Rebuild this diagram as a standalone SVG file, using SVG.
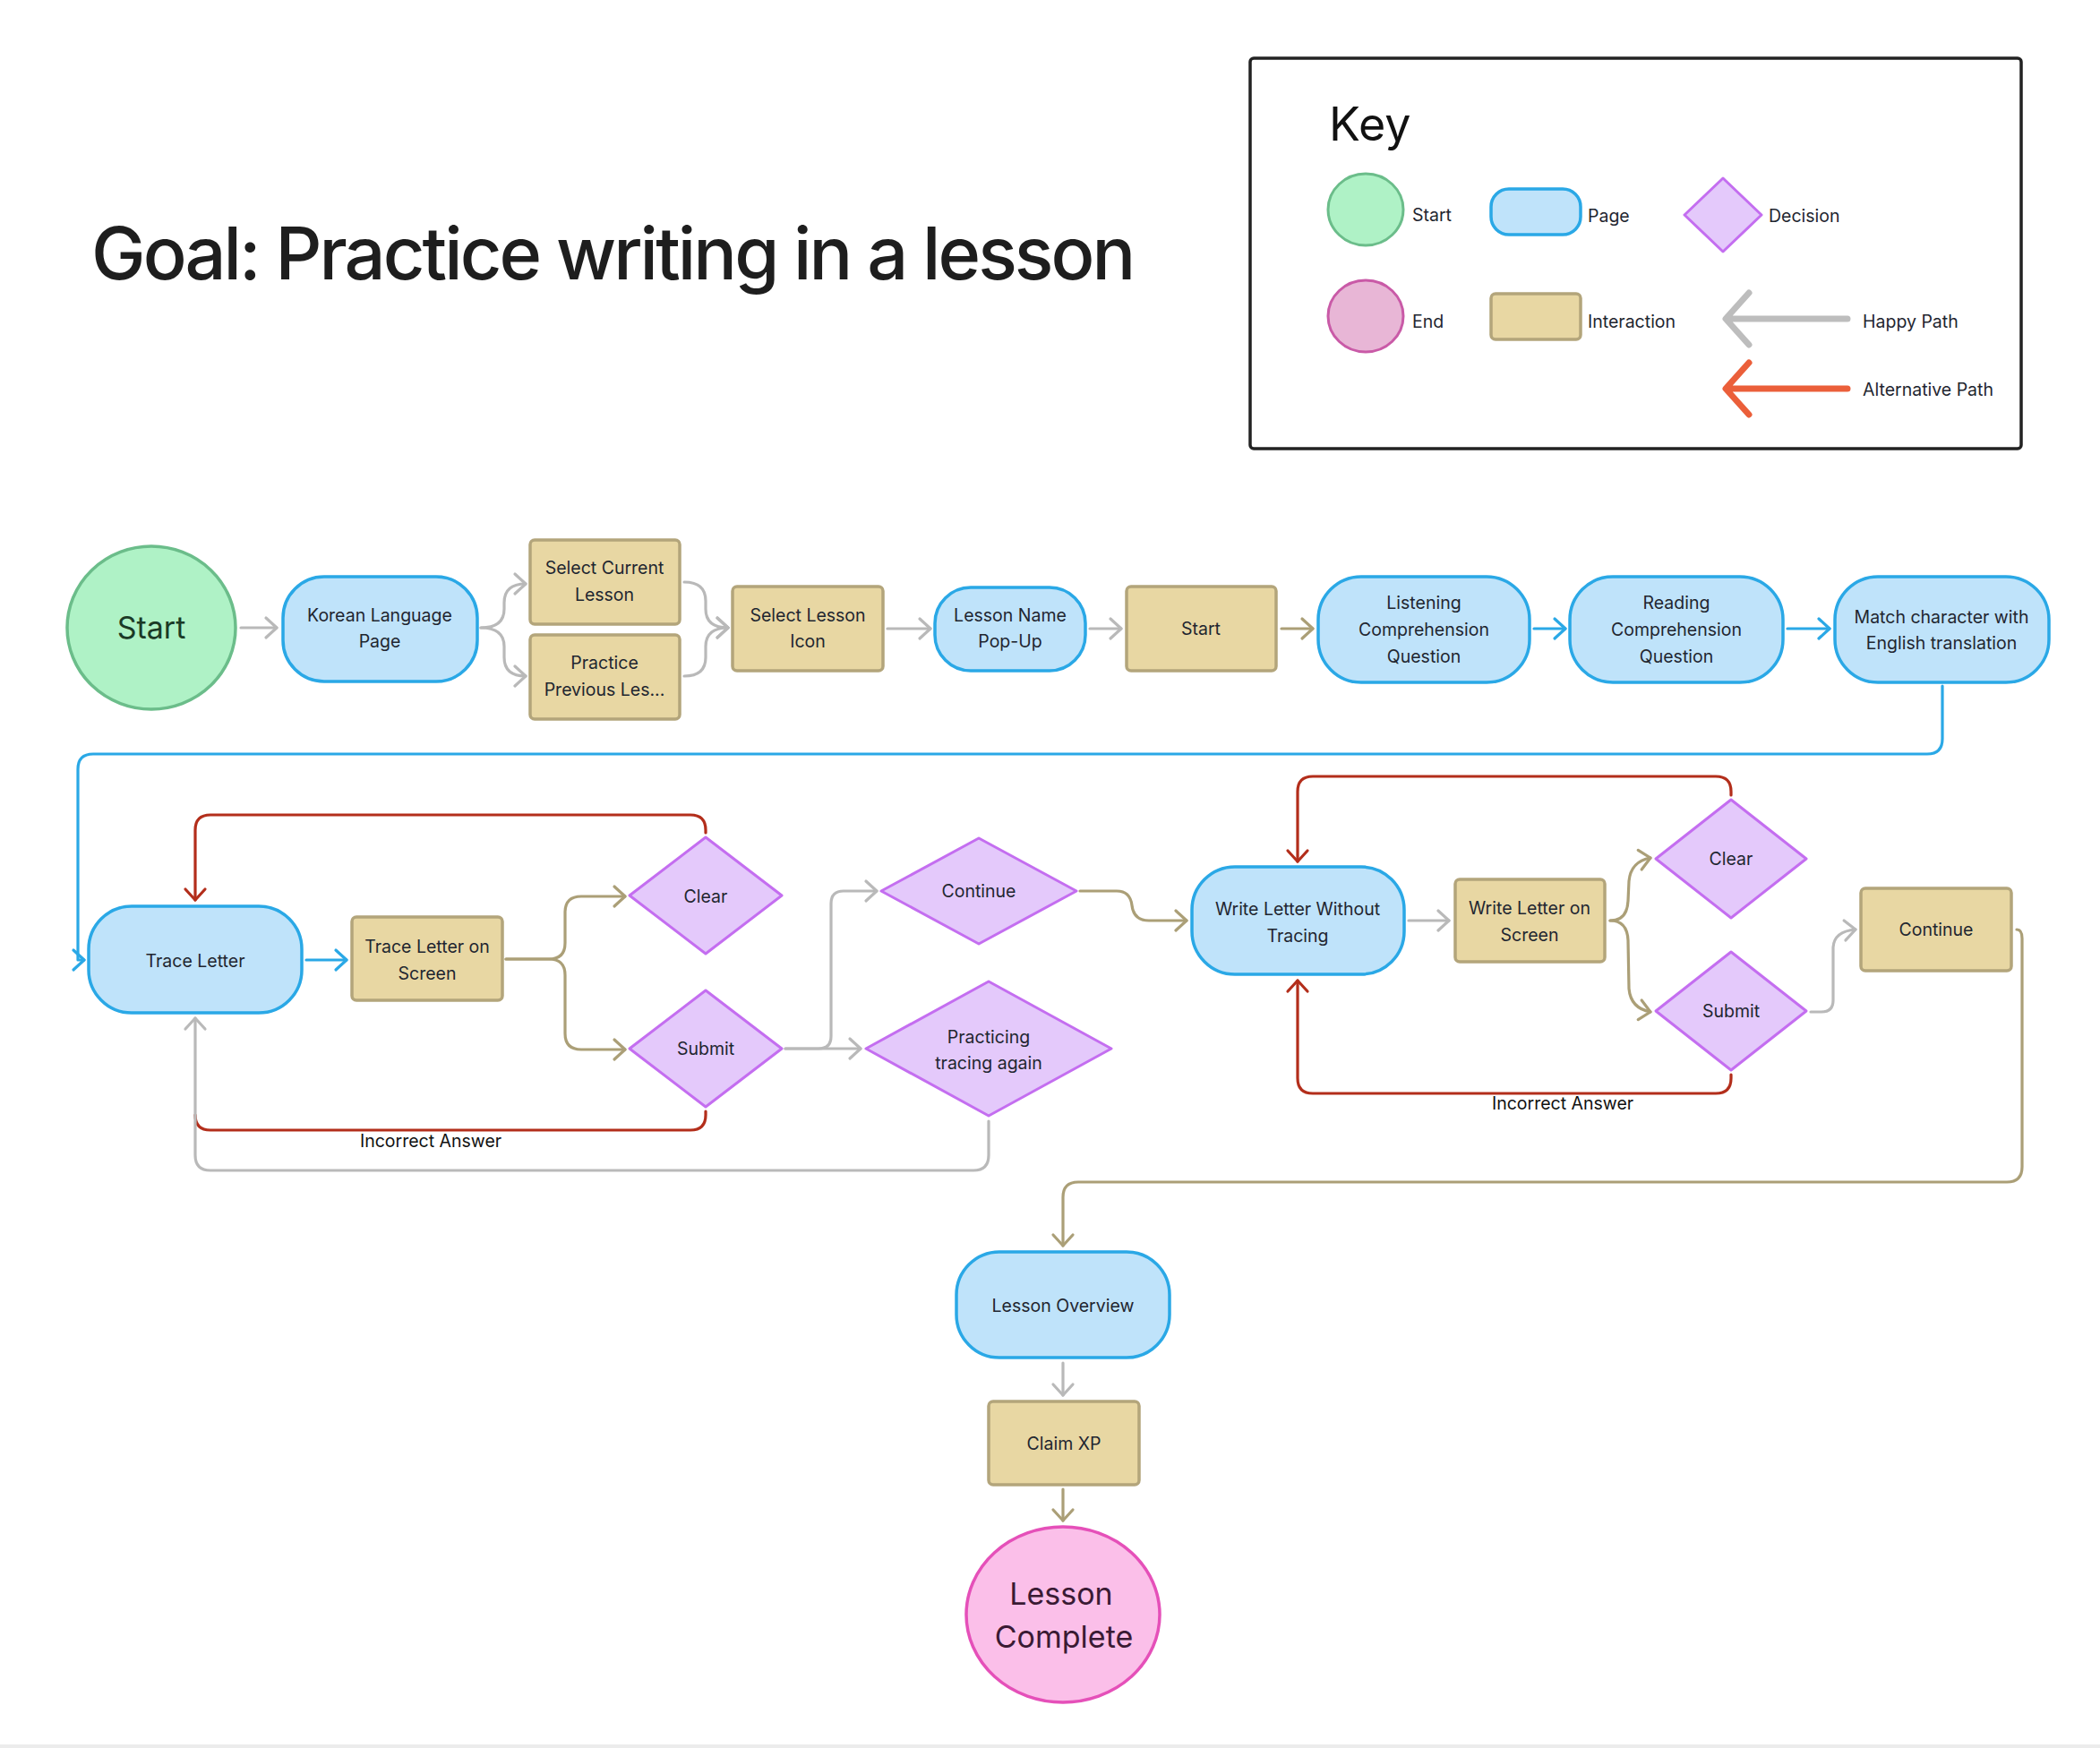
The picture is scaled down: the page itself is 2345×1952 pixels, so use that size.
<svg xmlns="http://www.w3.org/2000/svg" width="2345" height="1952" viewBox="0 0 2345 1952">
<defs>
<style>
text{font-family:Inter,"Noto Sans","Liberation Sans",sans-serif;fill:#1f2630}
.t{font-size:19.5px;text-anchor:middle}
.lg{font-size:19.5px}
.page{fill:#bfe3fa;stroke:#2aa8e6;stroke-width:3.5}
.int{fill:#e8d7a3;stroke:#b3a57b;stroke-width:3.5}
.dec{fill:#e4c9fb;stroke:#c46ef0;stroke-width:3;stroke-linejoin:round}
.c{fill:none;stroke-width:3.2;stroke-linecap:round;stroke-linejoin:round}
.g{stroke:#b9b9b9}
.tan{stroke:#ab9f77}
.b{stroke:#2aa8e6}
.r{stroke:#b32e1b}
</style>
<marker id="mg" markerUnits="userSpaceOnUse" markerWidth="30" markerHeight="30" refX="15" refY="15" orient="auto" overflow="visible"><path d="M3 4 L15 15 L3 26" fill="none" stroke="#b9b9b9" stroke-width="3.2" stroke-linecap="round" stroke-linejoin="round"/></marker>
<marker id="mt" markerUnits="userSpaceOnUse" markerWidth="30" markerHeight="30" refX="15" refY="15" orient="auto" overflow="visible"><path d="M3 4 L15 15 L3 26" fill="none" stroke="#ab9f77" stroke-width="3.2" stroke-linecap="round" stroke-linejoin="round"/></marker>
<marker id="mb" markerUnits="userSpaceOnUse" markerWidth="30" markerHeight="30" refX="15" refY="15" orient="auto" overflow="visible"><path d="M3 4 L15 15 L3 26" fill="none" stroke="#2aa8e6" stroke-width="3.2" stroke-linecap="round" stroke-linejoin="round"/></marker>
<marker id="mr" markerUnits="userSpaceOnUse" markerWidth="30" markerHeight="30" refX="15" refY="15" orient="auto" overflow="visible"><path d="M3 4 L15 15 L3 26" fill="none" stroke="#b32e1b" stroke-width="3.2" stroke-linecap="round" stroke-linejoin="round"/></marker>
</defs>
<rect width="2345" height="1952" fill="#ffffff"/>
<rect x="0" y="1948" width="2345" height="4" fill="#ececec"/>

<text id="title" x="102" y="312" style="font-size:81px;font-weight:500;fill:#1e1e1e;letter-spacing:-2.9px">Goal: Practice writing in a lesson</text>

<g id="legend">
<rect x="1396" y="65" width="861" height="436" rx="4" fill="#fff" stroke="#222" stroke-width="3.5"/>
<text x="1484" y="157" style="font-size:52px;fill:#111">Key</text>
<ellipse cx="1525" cy="234" rx="42" ry="40" fill="#aff2c6" stroke="#6bbd8a" stroke-width="3"/>
<text class="lg" x="1577" y="247">Start</text>
<rect x="1665" y="211" width="100" height="51" rx="20" class="page"/>
<text class="lg" x="1773" y="248">Page</text>
<polygon points="1924,199 1967,240 1924,281 1881,240" class="dec"/>
<text class="lg" x="1975" y="248">Decision</text>
<ellipse cx="1525" cy="353" rx="42" ry="40" fill="#e8b6d6" stroke="#c95aa7" stroke-width="3"/>
<text class="lg" x="1577" y="366">End</text>
<rect x="1665" y="328" width="100" height="51" rx="5" class="int"/>
<text class="lg" x="1773" y="366">Interaction</text>
<path d="M2063 356 H1928 M1953 327 L1927 356 L1953 385" fill="none" stroke="#bdbdbd" stroke-width="7" stroke-linecap="round" stroke-linejoin="round"/>
<text class="lg" x="2080" y="366">Happy Path</text>
<path d="M2063 434 H1928 M1953 405 L1927 434 L1953 463" fill="none" stroke="#eb5f3a" stroke-width="7" stroke-linecap="round" stroke-linejoin="round"/>
<text class="lg" x="2080" y="442">Alternative Path</text>
</g>

<g id="connectors">
<path class="c g" marker-end="url(#mg)" d="M269 701 H309"/>
<path class="c g" marker-end="url(#mg)" d="M537 701 Q563 701 563 680 V673 Q563 652 587 652"/>
<path class="c g" marker-end="url(#mg)" d="M537 701 Q563 701 563 722 V734 Q563 755 587 755"/>
<path class="c g" marker-end="url(#mg)" d="M764 650 Q788 650 788 671 V680 Q788 701 813 701"/>
<path class="c g" marker-end="url(#mg)" d="M764 755 Q788 755 788 734 V722 Q788 701 813 701"/>
<path class="c g" marker-end="url(#mg)" d="M991 702 H1039"/>
<path class="c g" marker-end="url(#mg)" d="M1217 702 H1252"/>
<path class="c tan" marker-end="url(#mt)" d="M1431 702 H1466"/>
<path class="c b" marker-end="url(#mb)" d="M1713 702 H1748"/>
<path class="c b" marker-end="url(#mb)" d="M1996 702 H2043"/>
<path class="c b" marker-end="url(#mb)" d="M2169 766 V825 Q2169 842 2152 842 H104 Q87 842 87 859 V1072 H94"/>
<path class="c b" marker-end="url(#mb)" d="M342 1072 H387"/>
<path class="c tan" marker-end="url(#mt)" d="M565 1071 H613 Q631 1071 631 1053 V1019 Q631 1001 649 1001 H698"/>
<path class="c tan" marker-end="url(#mt)" d="M565 1071 H613 Q631 1071 631 1089 V1154 Q631 1172 649 1172 H698"/>
<path class="c r" marker-end="url(#mr)" d="M788 930 V927 Q788 910 771 910 H235 Q218 910 218 927 V1005"/>
<path class="c r" d="M788 1241 V1245 Q788 1262 771 1262 H235 Q218 1262 218 1245"/>
<path class="c g" marker-end="url(#mg)" d="M1104 1252 V1290 Q1104 1307 1087 1307 H235 Q218 1307 218 1290 V1137"/>
<path class="c g" marker-end="url(#mg)" d="M877 1171 H961"/>
<path class="c g" marker-end="url(#mg)" d="M877 1171 H914 Q928 1171 928 1157 V1009 Q928 995 942 995 H979"/>
<path class="c tan" marker-end="url(#mt)" d="M1206 995 H1247 Q1262 995 1264 1011 Q1266 1028 1283 1028 H1325"/>
<path class="c g" marker-end="url(#mg)" d="M1573 1028 H1618"/>
<path class="c tan" marker-end="url(#mt)" d="M1798 1028 Q1817 1028 1818 1006 L1819 984 Q1821 962 1843 958"/>
<path class="c tan" marker-end="url(#mt)" d="M1798 1028 Q1817 1028 1818 1050 L1819 1104 Q1821 1126 1843 1130"/>
<path class="c r" marker-end="url(#mr)" d="M1933 888 V884 Q1933 867 1916 867 H1466 Q1449 867 1449 884 V962"/>
<path class="c r" marker-end="url(#mr)" d="M1933 1200 V1204 Q1933 1221 1916 1221 H1466 Q1449 1221 1449 1204 V1095"/>
<path class="c g" marker-end="url(#mg)" d="M2022 1130 H2034 Q2047 1130 2047 1117 V1058 Q2048 1040 2072 1038"/>
<path class="c tan" marker-end="url(#mt)" d="M2252 1038 Q2258 1038 2258 1048 V1303 Q2258 1320 2241 1320 H1204 Q1187 1320 1187 1337 V1391"/>
<path class="c g" marker-end="url(#mg)" d="M1187 1522 V1558"/>
<path class="c tan" marker-end="url(#mt)" d="M1187 1663 V1698"/>
<text class="t" x="481" y="1281" style="fill:#111">Incorrect Answer</text>
<text class="t" x="1745" y="1239" style="fill:#111">Incorrect Answer</text>
</g>

<g id="n-start">
<ellipse cx="169" cy="701" rx="94" ry="91" fill="#aff2c6" stroke="#6bbd8a" stroke-width="3.5"/>
<text x="169" y="713" style="font-size:34px;text-anchor:middle;fill:#1b3a26">Start</text>
</g>
<g id="n-korean">
<rect x="316" y="644" width="217" height="117" rx="46" class="page"/>
<text class="t" x="424" y="694">Korean Language</text>
<text class="t" x="424" y="723">Page</text>
</g>
<g id="n-select-current">
<rect x="592" y="603" width="167" height="94" rx="5" class="int"/>
<text class="t" x="675" y="641">Select Current</text>
<text class="t" x="675" y="671">Lesson</text>
</g>
<g id="n-practice-prev">
<rect x="592" y="709" width="167" height="94" rx="5" class="int"/>
<text class="t" x="675" y="747">Practice</text>
<text class="t" x="675" y="777">Previous Les...</text>
</g>
<g id="n-select-icon">
<rect x="818" y="655" width="168" height="94" rx="5" class="int"/>
<text class="t" x="902" y="694">Select Lesson</text>
<text class="t" x="902" y="723">Icon</text>
</g>
<g id="n-popup">
<rect x="1044" y="656" width="168" height="93" rx="40" class="page"/>
<text class="t" x="1128" y="694">Lesson Name</text>
<text class="t" x="1128" y="723">Pop-Up</text>
</g>
<g id="n-start-btn">
<rect x="1258" y="655" width="167" height="94" rx="5" class="int"/>
<text class="t" x="1341" y="709">Start</text>
</g>
<g id="n-listening">
<rect x="1472" y="644" width="236" height="118" rx="48" class="page"/>
<text class="t" x="1590" y="680">Listening</text>
<text class="t" x="1590" y="710">Comprehension</text>
<text class="t" x="1590" y="740">Question</text>
</g>
<g id="n-reading">
<rect x="1753" y="644" width="238" height="118" rx="48" class="page"/>
<text class="t" x="1872" y="680">Reading</text>
<text class="t" x="1872" y="710">Comprehension</text>
<text class="t" x="1872" y="740">Question</text>
</g>
<g id="n-match">
<rect x="2049" y="644" width="239" height="118" rx="48" class="page"/>
<text class="t" x="2168" y="696">Match character with</text>
<text class="t" x="2168" y="725">English translation</text>
</g>
<g id="n-trace">
<rect x="99" y="1012" width="238" height="119" rx="48" class="page"/>
<text class="t" x="218" y="1080">Trace Letter</text>
</g>
<g id="n-trace-screen">
<rect x="393" y="1024" width="168" height="93" rx="5" class="int"/>
<text class="t" x="477" y="1064">Trace Letter on</text>
<text class="t" x="477" y="1094">Screen</text>
</g>
<g id="n-clear1">
<polygon points="788,935 873,1000 788,1065 703,1000" class="dec"/>
<text class="t" x="788" y="1008">Clear</text>
</g>
<g id="n-submit1">
<polygon points="788,1106 873,1171 788,1236 703,1171" class="dec"/>
<text class="t" x="788" y="1178">Submit</text>
</g>
<g id="n-continue1">
<polygon points="1093,936 1202,995 1093,1054 984,995" class="dec"/>
<text class="t" x="1093" y="1002">Continue</text>
</g>
<g id="n-practicing">
<polygon points="1104,1096 1241,1171 1104,1246 967,1171" class="dec"/>
<text class="t" x="1104" y="1165">Practicing</text>
<text class="t" x="1104" y="1194">tracing again</text>
</g>
<g id="n-write">
<rect x="1331" y="968" width="237" height="120" rx="48" class="page"/>
<text class="t" x="1449" y="1022">Write Letter Without</text>
<text class="t" x="1449" y="1052">Tracing</text>
</g>
<g id="n-write-screen">
<rect x="1625" y="982" width="167" height="92" rx="5" class="int"/>
<text class="t" x="1708" y="1021">Write Letter on</text>
<text class="t" x="1708" y="1051">Screen</text>
</g>
<g id="n-clear2">
<polygon points="1933,893 2017,959 1933,1025 1849,959" class="dec"/>
<text class="t" x="1933" y="966">Clear</text>
</g>
<g id="n-submit2">
<polygon points="1933,1063 2017,1129 1933,1195 1849,1129" class="dec"/>
<text class="t" x="1933" y="1136">Submit</text>
</g>
<g id="n-continue2">
<rect x="2078" y="992" width="168" height="92" rx="5" class="int"/>
<text class="t" x="2162" y="1045">Continue</text>
</g>
<g id="n-overview">
<rect x="1068" y="1398" width="238" height="118" rx="48" class="page"/>
<text class="t" x="1187" y="1465">Lesson Overview</text>
</g>
<g id="n-claim">
<rect x="1104" y="1565" width="168" height="93" rx="5" class="int"/>
<text class="t" x="1188" y="1619">Claim XP</text>
</g>
<g id="n-complete">
<ellipse cx="1187" cy="1803" rx="108" ry="98" fill="#fbbfe9" stroke="#e550b9" stroke-width="3.5"/>
<text x="1185" y="1792" style="font-size:34px;text-anchor:middle;fill:#3a1a34">Lesson</text>
<text x="1188" y="1840" style="font-size:34px;text-anchor:middle;fill:#3a1a34">Complete</text>
</g>
</svg>
